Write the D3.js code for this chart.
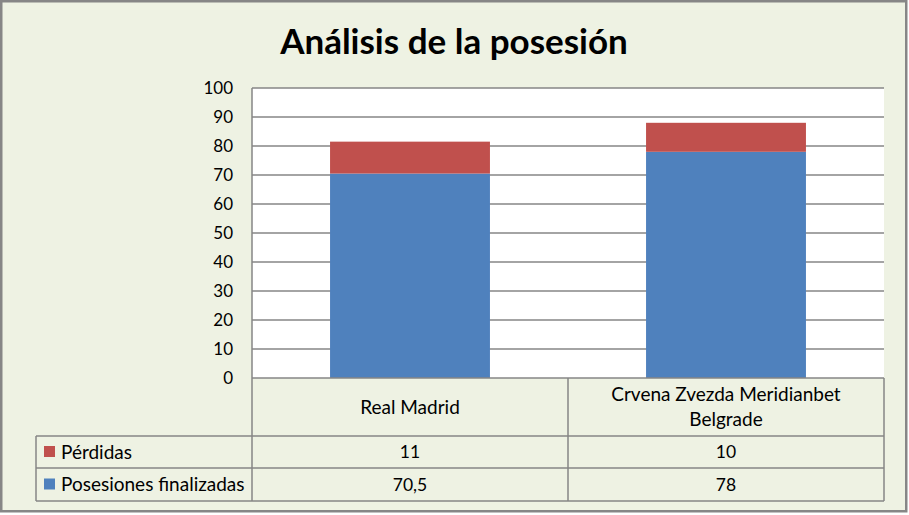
<!DOCTYPE html>
<html>
<head>
<meta charset="utf-8">
<script src="https://cdn.jsdelivr.net/npm/d3@7"></script>
<style>
  body { margin: 0; background: #fff; }
  svg { display: block; font-family: Lato, "Open Sans", sans-serif; }
</style>
</head>
<body>
<svg id="chart"></svg>
<script>
// chart values
const categories = ['Real Madrid', 'Crvena Zvezda Meridianbet Belgrade'];
const seriesNames = ['Pérdidas', 'Posesiones finalizadas'];
const perdidas = [11, 10];
const posesiones = [70.5, 78];
const yTicks = [0, 10, 20, 30, 40, 50, 60, 70, 80, 90, 100];

const W = 909, H = 515;
const plot = { left: 252, right: 884, top: 88, bottom: 378 };
const rowH = [58, 32, 33]; // category row, then one row per series
const legendLeft = 36;
const grey = '#868686';
const colors = { 'Pérdidas': '#C0504D', 'Posesiones finalizadas': '#4F81BD' };

const locale = d3.formatLocale({ decimal: ',', thousands: '.', grouping: [3], currency: ['', ''] });
const fmt = v => Number.isInteger(v) ? String(v) : locale.format(',.1f')(v);

const svg = d3.select('#chart').attr('width', W).attr('height', H);

// chart area background + outer frame
svg.append('rect')
    .attr('x', 1.25).attr('y', 1.25)
    .attr('width', W - 4).attr('height', H - 5)
    .attr('fill', '#EEF2E3')
    .attr('stroke', grey).attr('stroke-width', 2.5);

svg.append('text')
    .attr('x', 454).attr('y', 54)
    .attr('text-anchor', 'middle')
    .attr('font-size', 35).attr('font-weight', 'bold')
    .attr('fill', '#000')
    .text('Análisis de la posesión');

const x0 = d3.scaleBand()
    .domain(categories)
    .range([plot.left, plot.right]);

const x = d3.scaleBand()
    .domain(categories)
    .range([plot.left, plot.right])
    .paddingInner(0.494)
    .paddingOuter(0.247);

const y = d3.scaleLinear()
    .domain([0, 100])
    .range([plot.bottom, plot.top]);

svg.append('rect')
    .attr('x', plot.left).attr('y', plot.top)
    .attr('width', plot.right - plot.left).attr('height', plot.bottom - plot.top)
    .attr('fill', '#fff');

// gridlines
svg.append('g')
    .selectAll('line')
    .data(yTicks.filter(t => t > 0))
    .enter().append('line')
    .attr('x1', plot.left).attr('x2', plot.right)
    .attr('y1', d => y(d)).attr('y2', d => y(d))
    .attr('stroke', grey).attr('stroke-width', 1.5);

// stacked bars
const stackData = categories.map((c, i) => ({
    category: c,
    'Posesiones finalizadas': posesiones[i],
    'Pérdidas': perdidas[i]
}));
const stack = d3.stack().keys(['Posesiones finalizadas', 'Pérdidas'])(stackData);

svg.append('g')
    .selectAll('g')
    .data(stack)
    .enter().append('g')
    .attr('fill', d => colors[d.key])
    .selectAll('rect')
    .data(d => d)
    .enter().append('rect')
    .attr('x', d => x(d.data.category))
    .attr('width', x.bandwidth())
    .attr('y', d => y(d[1]))
    .attr('height', d => y(d[0]) - y(d[1]));

// y axis
const yAxis = svg.append('g')
    .attr('transform', `translate(${plot.left},0)`)
    .call(d3.axisLeft(y).tickValues(yTicks).tickSize(0).tickPadding(19));
yAxis.select('.domain').remove();
yAxis.selectAll('text')
    .attr('font-size', 17).attr('fill', '#000')
    .attr('font-family', 'Lato, sans-serif');

svg.append('line')
    .attr('x1', plot.left).attr('x2', plot.left)
    .attr('y1', plot.top).attr('y2', plot.bottom)
    .attr('stroke', grey).attr('stroke-width', 1.5);

// data table
const rowTop = [plot.bottom, plot.bottom + rowH[0], plot.bottom + rowH[0] + rowH[1]];
const tableBottom = rowTop[2] + rowH[2];
const table = svg.append('g')
    .attr('stroke', grey).attr('stroke-width', 1.5);

table.append('line')
    .attr('x1', plot.left).attr('x2', plot.right)
    .attr('y1', rowTop[0]).attr('y2', rowTop[0]);
[rowTop[1], rowTop[2], tableBottom].forEach(yy => {
    table.append('line')
        .attr('x1', legendLeft).attr('x2', plot.right)
        .attr('y1', yy).attr('y2', yy);
});
table.append('line')
    .attr('x1', legendLeft).attr('x2', legendLeft)
    .attr('y1', rowTop[1]).attr('y2', tableBottom);
[plot.left, ...categories.slice(1).map(c => x0(c)), plot.right].forEach(xx => {
    table.append('line')
        .attr('x1', xx).attr('x2', xx)
        .attr('y1', rowTop[0]).attr('y2', tableBottom);
});

// category labels, wrapped to the column width
const catText = svg.append('g')
    .selectAll('text')
    .data(categories)
    .enter().append('text')
    .attr('text-anchor', 'middle')
    .attr('font-size', 19).attr('fill', '#000')
    .attr('x', d => x0(d) + x0.bandwidth() / 2);

catText.each(function (d) {
    const el = d3.select(this);
    const words = d.split(' ');
    const lines = [];
    let line = [];
    const probe = el.append('tspan');
    words.forEach(w => {
        probe.text([...line, w].join(' '));
        if (probe.node().getComputedTextLength() > x0.bandwidth() - 40 && line.length) {
            lines.push(line.join(' '));
            line = [w];
        } else {
            line.push(w);
        }
    });
    lines.push(line.join(' '));
    probe.remove();
    const mid = rowTop[0] + rowH[0] / 2;
    const lh = 25;
    lines.forEach((l, i) => {
        el.append('tspan')
            .attr('x', x0(d) + x0.bandwidth() / 2)
            .attr('y', mid + (i - (lines.length - 1) / 2) * lh)
            .attr('dy', '0.35em')
            .text(l);
    });
});

// series rows: legend key, name, values
const seriesValues = { 'Pérdidas': perdidas, 'Posesiones finalizadas': posesiones };
seriesNames.forEach((s, r) => {
    const mid = rowTop[r + 1] + rowH[r + 1] / 2;
    svg.append('rect')
        .attr('x', 44).attr('y', mid - 6)
        .attr('width', 11).attr('height', 11)
        .attr('fill', colors[s]);
    svg.append('text')
        .attr('x', 61).attr('y', mid).attr('dy', '0.35em')
        .attr('font-size', 19).attr('fill', '#000')
        .text(s);
    svg.append('g')
        .selectAll('text')
        .data(seriesValues[s])
        .enter().append('text')
        .attr('x', (d, i) => x0(categories[i]) + x0.bandwidth() / 2)
        .attr('y', mid).attr('dy', '0.35em')
        .attr('text-anchor', 'middle')
        .attr('font-size', 17.5).attr('fill', '#000')
        .text(d => fmt(d));
});
</script>
</body>
</html>
